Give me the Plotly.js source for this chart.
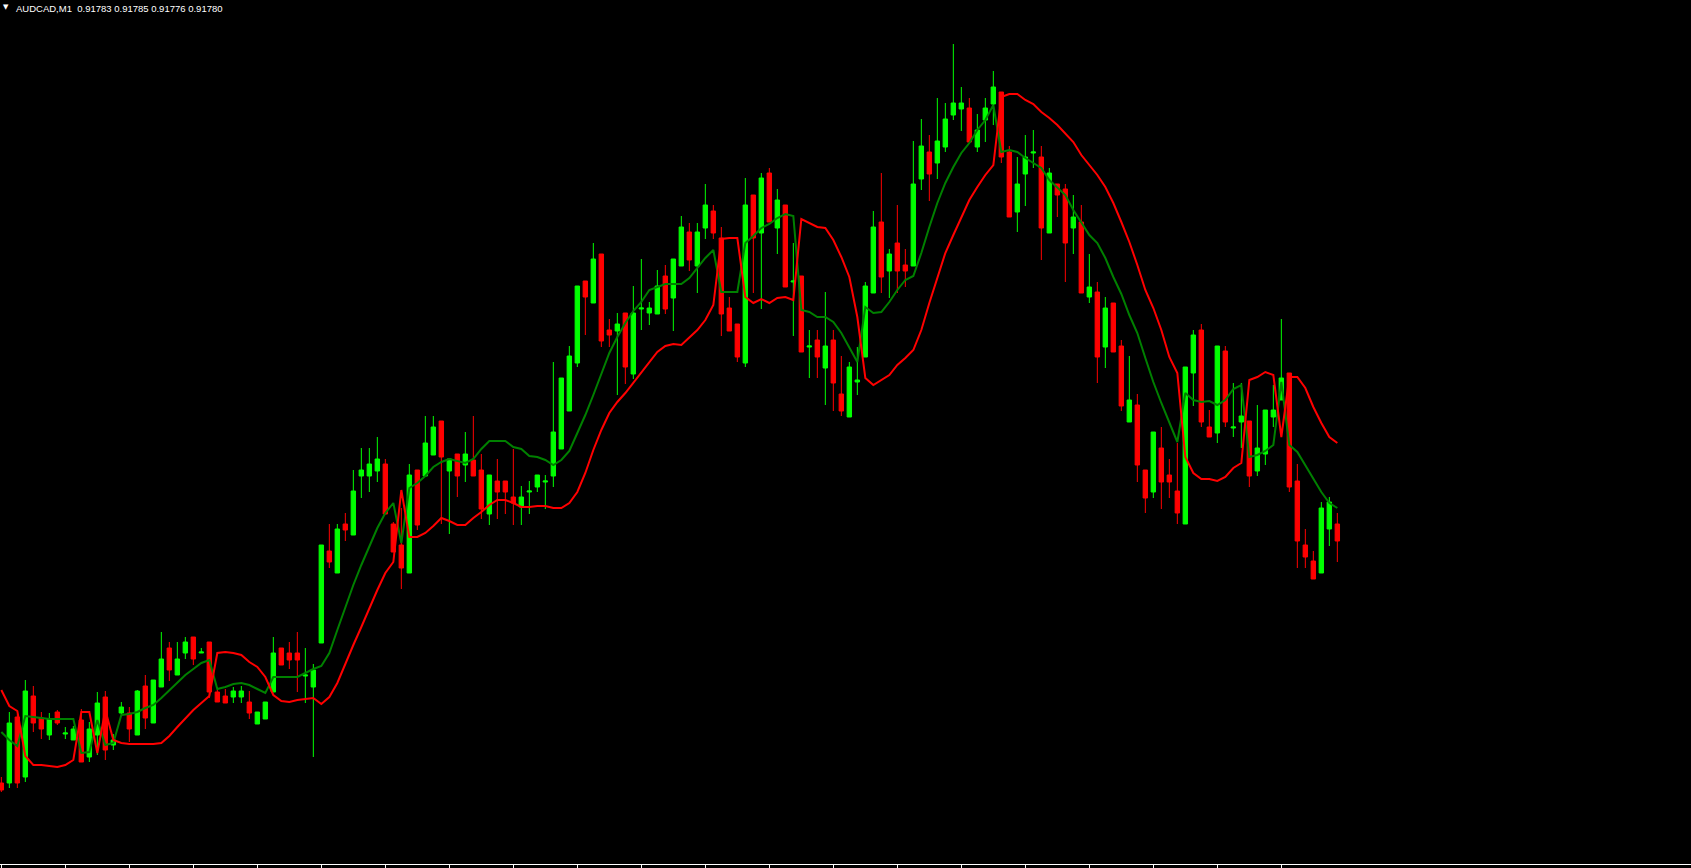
<!DOCTYPE html>
<html>
<head>
<meta charset="utf-8">
<script src="https://cdn.plot.ly/plotly-3.0.1.min.js"></script>
<style>
html,body{margin:0;padding:0;background:#000;overflow:hidden;}
#chart{width:1691px;height:868px;}
</style>
</head>
<body>
<div id="chart"></div>
<script>
const symbol = "AUDCAD,M1";
const lastQuote = ["0.91783", "0.91785", "0.91776", "0.91780"];

const openP = [
0.917316,0.917316,0.917448,0.917328,0.917490,0.917446,0.917412,0.917458,0.917414,0.917402,
0.917442,0.917368,0.917412,0.917488,0.917392,0.917456,0.917456,0.917412,0.917510,0.917436,
0.917508,0.917586,0.917532,0.917576,0.917608,0.917576,0.917598,0.917498,0.917490,0.917488,
0.917488,0.917478,0.917434,0.917444,0.917498,0.917586,0.917576,0.917576,0.917530,0.917508,
0.917596,0.917780,0.917736,0.917834,0.917812,0.917930,0.917930,0.917940,0.917954,0.917834,
0.917792,0.917736,0.917942,0.917930,0.917972,0.918040,0.917940,0.917974,0.917952,0.917962,
0.917942,0.917854,0.917920,0.917920,0.917888,0.917868,0.917898,0.917908,0.917918,0.917930,
0.917984,0.918060,0.918156,0.918320,0.918276,0.918374,0.918222,0.918220,0.918256,0.918134,
0.918264,0.918256,0.918254,0.918330,0.918286,0.918350,0.918418,0.918350,0.918426,0.918460,
0.918406,0.918266,0.918234,0.918156,0.918492,0.918416,0.918536,0.918426,0.918472,0.918318,
0.918330,0.918188,0.918202,0.918146,0.918202,0.918094,0.918048,0.918118,0.918168,0.918296,
0.918438,0.918340,0.918396,0.918352,0.918350,0.918524,0.918578,0.918556,0.918588,0.918652,
0.918664,0.918666,0.918588,0.918642,0.918674,0.918698,0.918578,0.918458,0.918534,0.918576,
0.918568,0.918416,0.918514,0.918504,0.918426,0.918438,0.918288,0.918298,0.918188,0.918276,
0.918190,0.918038,0.918072,0.917942,0.917898,0.917986,0.917932,0.917900,0.917834,0.918136,
0.918222,0.918028,0.918016,0.918180,0.918026,0.918038,0.918040,0.917940,0.917974,0.918048,
0.918082,0.918136,0.917920,0.917792,0.917760,0.917736,0.917824,0.917834];

const highP = [
0.917328,0.917458,0.917454,0.917522,0.917510,0.917458,0.917456,0.917462,0.917428,0.917430,
0.917464,0.917438,0.917498,0.917500,0.917414,0.917478,0.917468,0.917502,0.917532,0.917522,
0.917618,0.917598,0.917598,0.917608,0.917608,0.917586,0.917598,0.917502,0.917504,0.917508,
0.917510,0.917500,0.917458,0.917478,0.917608,0.917586,0.917598,0.917618,0.917586,0.917554,
0.917792,0.917834,0.917834,0.917856,0.917942,0.917986,0.917986,0.918008,0.917964,0.917838,
0.917866,0.917954,0.917942,0.918050,0.918050,0.918040,0.917964,0.917974,0.918018,0.918050,
0.917974,0.917932,0.917964,0.917920,0.917984,0.917910,0.917920,0.917932,0.917932,0.918158,
0.918126,0.918190,0.918310,0.918320,0.918396,0.918374,0.918244,0.918256,0.918256,0.918310,
0.918364,0.918278,0.918342,0.918352,0.918364,0.918450,0.918436,0.918436,0.918514,0.918472,
0.918428,0.918288,0.918234,0.918526,0.918492,0.918536,0.918546,0.918504,0.918472,0.918396,
0.918330,0.918222,0.918222,0.918298,0.918222,0.918170,0.918158,0.918188,0.918318,0.918460,
0.918536,0.918384,0.918472,0.918384,0.918600,0.918644,0.918612,0.918686,0.918676,0.918794,
0.918708,0.918686,0.918654,0.918686,0.918740,0.918698,0.918590,0.918568,0.918612,0.918622,
0.918590,0.918546,0.918514,0.918514,0.918492,0.918472,0.918374,0.918318,0.918288,0.918276,
0.918202,0.918170,0.918094,0.917942,0.918018,0.918028,0.917964,0.917996,0.918148,0.918222,
0.918234,0.918062,0.918190,0.918190,0.918116,0.918116,0.918040,0.918072,0.918062,0.918112,
0.918244,0.918136,0.917954,0.917824,0.917780,0.917878,0.917888,0.917856];

const lowP = [
0.917298,0.917306,0.917306,0.917318,0.917418,0.917404,0.917402,0.917432,0.917404,0.917402,
0.917358,0.917358,0.917372,0.917362,0.917382,0.917454,0.917398,0.917412,0.917424,0.917436,
0.917508,0.917520,0.917532,0.917564,0.917552,0.917576,0.917486,0.917478,0.917476,0.917476,
0.917476,0.917444,0.917434,0.917444,0.917498,0.917552,0.917544,0.917498,0.917476,0.917368,
0.917596,0.917746,0.917736,0.917800,0.917812,0.917886,0.917898,0.917918,0.917854,0.917778,
0.917704,0.917736,0.917822,0.917930,0.917972,0.917834,0.917814,0.917888,0.917918,0.917930,
0.917844,0.917832,0.917844,0.917854,0.917832,0.917832,0.917854,0.917898,0.917864,0.917908,
0.917984,0.918060,0.918148,0.918212,0.918276,0.918188,0.918188,0.918092,0.918114,0.918124,
0.918222,0.918232,0.918254,0.918254,0.918220,0.918350,0.918340,0.918296,0.918404,0.918404,
0.918210,0.918220,0.918158,0.918148,0.918296,0.918264,0.918438,0.918374,0.918308,0.918210,
0.918178,0.918126,0.918126,0.918072,0.918060,0.918050,0.918048,0.918092,0.918168,0.918296,
0.918296,0.918286,0.918296,0.918308,0.918350,0.918502,0.918480,0.918524,0.918578,0.918642,
0.918620,0.918598,0.918578,0.918598,0.918632,0.918556,0.918448,0.918418,0.918470,0.918546,
0.918362,0.918416,0.918448,0.918318,0.918374,0.918296,0.918276,0.918116,0.918146,0.918178,
0.918060,0.918038,0.917918,0.917856,0.917886,0.917864,0.917886,0.917834,0.917834,0.918070,
0.918028,0.918008,0.917996,0.918028,0.918008,0.917986,0.917908,0.917930,0.917952,0.918028,
0.918082,0.917898,0.917746,0.917746,0.917724,0.917736,0.917790,0.917758];

const closeP = [
0.917302,0.917436,0.917316,0.917500,0.917436,0.917424,0.917444,0.917436,0.917416,0.917424,
0.917358,0.917424,0.917476,0.917382,0.917402,0.917468,0.917424,0.917500,0.917446,0.917522,
0.917564,0.917542,0.917564,0.917598,0.917564,0.917578,0.917498,0.917478,0.917476,0.917500,
0.917500,0.917456,0.917458,0.917478,0.917576,0.917552,0.917562,0.917562,0.917532,0.917542,
0.917792,0.917758,0.917824,0.917822,0.917900,0.917942,0.917954,0.917964,0.917854,0.917778,
0.917746,0.917932,0.917832,0.917996,0.918028,0.917968,0.917964,0.917930,0.917974,0.917930,
0.917864,0.917932,0.917898,0.917898,0.917876,0.917888,0.917900,0.917932,0.917920,0.918018,
0.918126,0.918170,0.918310,0.918288,0.918364,0.918200,0.918212,0.918234,0.918148,0.918256,
0.918266,0.918266,0.918310,0.918264,0.918364,0.918428,0.918362,0.918418,0.918472,0.918416,
0.918254,0.918220,0.918168,0.918472,0.918406,0.918526,0.918438,0.918482,0.918308,0.918320,
0.918178,0.918190,0.918168,0.918190,0.918116,0.918060,0.918148,0.918122,0.918310,0.918428,
0.918328,0.918374,0.918340,0.918340,0.918514,0.918590,0.918534,0.918600,0.918644,0.918676,
0.918676,0.918598,0.918622,0.918666,0.918708,0.918568,0.918448,0.918514,0.918568,0.918578,
0.918426,0.918536,0.918492,0.918396,0.918448,0.918296,0.918308,0.918168,0.918266,0.918178,
0.918070,0.918082,0.917952,0.917886,0.918018,0.917918,0.917918,0.917856,0.918148,0.918212,
0.918038,0.918008,0.918190,0.918038,0.918028,0.918050,0.917930,0.917986,0.918062,0.918062,
0.918126,0.917908,0.917800,0.917768,0.917724,0.917866,0.917878,0.917800];

const greenLine = [
0.917418,0.917402,0.917390,0.917450,0.917448,0.917446,0.917444,0.917444,0.917444,0.917444,
0.917376,0.917378,0.917442,0.917392,0.917396,0.917452,0.917454,0.917458,0.917466,0.917472,
0.917486,0.917502,0.917516,0.917532,0.917544,0.917556,0.917562,0.917504,0.917508,0.917514,
0.917516,0.917512,0.917504,0.917496,0.917528,0.917528,0.917528,0.917528,0.917536,0.917544,
0.917550,0.917576,0.917622,0.917668,0.917712,0.917752,0.917788,0.917826,0.917856,0.917876,
0.917796,0.917906,0.917916,0.917930,0.917948,0.917958,0.917964,0.917960,0.917956,0.917964,
0.917984,0.918000,0.918000,0.918000,0.917988,0.917984,0.917970,0.917968,0.917962,0.917952,
0.917962,0.917980,0.918016,0.918052,0.918092,0.918132,0.918176,0.918208,0.918236,0.918260,
0.918278,0.918302,0.918308,0.918314,0.918314,0.918314,0.918326,0.918346,0.918366,0.918382,
0.918298,0.918298,0.918298,0.918396,0.918410,0.918426,0.918434,0.918446,0.918454,0.918450,
0.918262,0.918258,0.918248,0.918248,0.918238,0.918216,0.918188,0.918158,0.918268,0.918256,
0.918258,0.918278,0.918302,0.918322,0.918330,0.918376,0.918428,0.918476,0.918516,0.918548,
0.918576,0.918596,0.918622,0.918642,0.918672,0.918578,0.918582,0.918578,0.918566,0.918556,
0.918546,0.918522,0.918506,0.918492,0.918462,0.918436,0.918412,0.918396,0.918366,0.918328,
0.918294,0.918252,0.918216,0.918166,0.918118,0.918076,0.918036,0.917998,0.918096,0.918082,
0.918078,0.918080,0.918072,0.918082,0.918104,0.918112,0.917968,0.917972,0.917980,0.917992,
0.918118,0.917992,0.917978,0.917952,0.917926,0.917898,0.917876,0.917866];

const redLine = [
0.917502,0.917470,0.917460,0.917370,0.917352,0.917352,0.917350,0.917348,0.917352,0.917362,
0.917458,0.917458,0.917376,0.917462,0.917402,0.917396,0.917394,0.917394,0.917394,0.917394,
0.917396,0.917410,0.917428,0.917446,0.917462,0.917476,0.917490,0.917576,0.917578,0.917576,
0.917572,0.917558,0.917548,0.917528,0.917492,0.917480,0.917478,0.917482,0.917484,0.917486,
0.917474,0.917488,0.917516,0.917556,0.917592,0.917628,0.917666,0.917702,0.917736,0.917758,
0.917902,0.917808,0.917808,0.917816,0.917830,0.917846,0.917840,0.917832,0.917832,0.917846,
0.917858,0.917872,0.917882,0.917882,0.917876,0.917868,0.917868,0.917870,0.917870,0.917866,
0.917866,0.917876,0.917898,0.917936,0.917982,0.918022,0.918056,0.918078,0.918096,0.918116,
0.918136,0.918158,0.918178,0.918190,0.918194,0.918192,0.918208,0.918222,0.918242,0.918272,
0.918404,0.918406,0.918406,0.918288,0.918276,0.918284,0.918276,0.918286,0.918288,0.918282,
0.918444,0.918436,0.918428,0.918426,0.918402,0.918368,0.918328,0.918248,0.918126,0.918112,
0.918122,0.918132,0.918152,0.918166,0.918182,0.918222,0.918276,0.918328,0.918376,0.918412,
0.918448,0.918482,0.918508,0.918532,0.918552,0.918688,0.918694,0.918694,0.918682,0.918674,
0.918658,0.918646,0.918632,0.918616,0.918598,0.918572,0.918552,0.918532,0.918508,0.918476,
0.918438,0.918398,0.918352,0.918302,0.918266,0.918222,0.918168,0.918136,0.917968,0.917936,
0.917924,0.917924,0.917920,0.917928,0.917946,0.917956,0.918122,0.918128,0.918138,0.918132,
0.918008,0.918128,0.918128,0.918106,0.918068,0.918036,0.918008,0.917996];

const bars = openP.map((_, i) => i);
const tickBars = [];
for (let k = 0; k <= 160; k += 8) tickBars.push(k);

const traces = [
  {
    type: 'candlestick',
    x: bars, open: openP, high: highP, low: lowP, close: closeP,
    increasing: {line: {color: '#00ff00', width: 1}, fillcolor: '#00ff00'},
    decreasing: {line: {color: '#ff0000', width: 1}, fillcolor: '#ff0000'},
    whiskerwidth: 0,
    hoverinfo: 'none',
    showlegend: false
  },
  {
    type: 'scatter', mode: 'lines', x: bars, y: greenLine,
    line: {color: '#008000', width: 2}, hoverinfo: 'none', showlegend: false
  },
  {
    type: 'scatter', mode: 'lines', x: bars, y: redLine,
    line: {color: '#ff0000', width: 2}, hoverinfo: 'none', showlegend: false
  }
];

const layout = {
  width: 1691, height: 868,
  paper_bgcolor: '#000000', plot_bgcolor: '#000000',
  margin: {l: 0, r: 0, t: 0, b: 4, pad: 0},
  showlegend: false,
  boxgap: 0.45, boxgroupgap: 0,
  xaxis: {
    range: [-0.166, 211.209],
    rangeslider: {visible: false},
    showgrid: false, zeroline: false,
    showline: true, linecolor: '#ffffff', linewidth: 1,
    tickmode: 'array', tickvals: tickBars, ticktext: tickBars.map(() => ''),
    ticks: 'outside', ticklen: 4, tickwidth: 1, tickcolor: '#ffffff',
    showticklabels: false, fixedrange: true
  },
  yaxis: {
    range: [0.917154, 0.918882],
    showgrid: false, zeroline: false, showline: false,
    showticklabels: false, ticks: '', fixedrange: true
  },
  annotations: [
    {
      xref: 'paper', yref: 'paper', x: 0, y: 1, xanchor: 'left', yanchor: 'top',
      xshift: 2, yshift: -2, showarrow: false, borderpad: 0,
      text: '\u25BC', font: {family: 'DejaVu Sans', size: 7, color: '#ffffff'}
    },
    {
      xref: 'paper', yref: 'paper', x: 0, y: 1, xanchor: 'left', yanchor: 'top',
      xshift: 15, yshift: -2, showarrow: false, borderpad: 0,
      text: symbol + '\u00A0\u00A0' + lastQuote.join(' '),
      font: {family: 'Liberation Sans, Arial, sans-serif', size: 9.5, color: '#ffffff'}
    }
  ]
};

Plotly.newPlot('chart', traces, layout, {staticPlot: true, displayModeBar: false});
</script>
</body>
</html>
